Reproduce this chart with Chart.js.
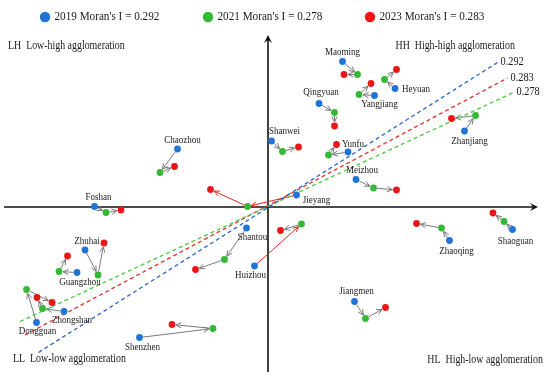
<!DOCTYPE html>
<html>
<head>
<meta charset="utf-8">
<script src="https://cdn.jsdelivr.net/npm/chart.js@4.4.1/dist/chart.umd.min.js"></script>
<style>
  html, body { margin: 0; padding: 0; background: #fff; }
  #wrap { width: 550px; height: 378px; }
</style>
</head>
<body>
<div id="wrap"><canvas id="grafico" width="550" height="378"></canvas></div>
<script>
// Moran scatter: standardized value (x) vs spatial lag (y)
const cities = ['Maoming', 'Heyuan', 'Yangjiang', 'Qingyuan', 'Shanwei', 'Yunfu', 'Zhanjiang',
  'Meizhou', 'Chaozhou', 'Jieyang', 'Foshan', 'Shantou', 'Huizhou', 'Zhaoqing', 'Shaoguan',
  'Zhuhai', 'Guangzhou', 'Zhongshan', 'Dongguan', 'Jiangmen', 'Shenzhen'];

const x2019 = [1.49, 2.54, 2.13, 1.02, 0.07, 1.60, 3.93, 1.76, -1.81, 0.57, -3.47, -0.43, -0.27, 3.63, 4.89, -3.66, -3.82, -4.08, -4.63, 1.73, -2.57];
const y2019 = [2.91, 2.37, 2.23, 2.07, 1.32, 1.10, 1.52, 0.55, 1.16, 0.24, 0.01, -0.42, -1.18, -0.67, -0.45, -0.86, -1.31, -2.09, -2.31, -1.89, -2.61];

const x2021 = [1.79, 2.33, 1.82, 1.33, 0.29, 1.21, 4.15, 2.11, -2.16, -0.41, -3.24, -0.87, 0.67, 3.47, 4.72, -3.40, -4.18, -4.51, -4.83, 1.95, -1.10];
const y2021 = [2.65, 2.55, 2.25, 1.89, 1.11, 1.04, 1.83, 0.38, 0.69, 0.01, -0.11, -1.05, -0.34, -0.42, -0.29, -1.36, -1.29, -2.03, -1.65, -2.23, -2.43];

const x2023 = [1.52, 2.57, 2.06, 1.33, 0.61, 1.37, 3.67, 2.57, -1.87, -1.15, -2.94, -1.45, 0.25, 2.97, 4.50, -3.28, -4.01, -4.62, -4.32, 2.35, -1.92];
const y2023 = [2.65, 2.75, 2.47, 1.62, 1.20, 1.25, 1.77, 0.34, 0.81, 0.35, -0.06, -1.25, -0.47, -0.33, -0.12, -0.72, -0.98, -1.81, -1.91, -2.01, -2.35];

const years = ['2019', '2021', '2023'];
const moranI = ['0.292', '0.278', '0.283'];

// fitted lines (end points)
const fit2019X = [-4.59, 4.59], fit2019Y = [-2.91, 2.89];
const fit2021X = [-4.96, 4.91], fit2021Y = [-2.29, 2.29];
const fit2023X = [-4.86, 4.79], fit2023Y = [-2.56, 2.58];

const quadrants = ['LH  Low-high agglomeration', 'HH  High-high agglomeration',
  'LL  Low-low agglomeration', 'HL  High-low agglomeration'];

// ---- estilos / layout ----
const pointColors = ['#1f74d4', '#35b835', '#ec1616'];
const lineColors = ['#2c66c4', '#4cc842', '#e5302c'];
const SERIF = '"Liberation Serif", "Times New Roman", serif';
const SQUEEZE = 0.86;

// label offset (px) from the 2019 dot
const labelOffset = {
  Maoming: [0, -9], Heyuan: [21, 1], Yangjiang: [5, 9], Qingyuan: [2, -11], Shanwei: [13, -10],
  Yunfu: [5, -8], Zhanjiang: [5, 10], Meizhou: [6, -9], Chaozhou: [5, -9], Jieyang: [20, 5],
  Foshan: [4, -9], Shantou: [6, 9], Huizhou: [-4, 9], Zhaoqing: [7, 11], Shaoguan: [3, 12],
  Zhuhai: [2, -9], Guangzhou: [3, 10], Zhongshan: [8, 9], Dongguan: [1, 9], Jiangmen: [2, -10],
  Shenzhen: [3, 10]
};
const arrowRed = { Jieyang: [true, true], Huizhou: [true, false] };

const pts = (xs, ys) => xs.map((x, i) => ({ x, y: ys[i] }));

function texto(ctx, str, x, y, size, align) {
  ctx.save();
  ctx.font = size + 'px ' + SERIF;
  ctx.fillStyle = '#1a1a1a';
  ctx.textBaseline = 'middle';
  ctx.textAlign = align || 'center';
  ctx.translate(x, y);
  ctx.scale(SQUEEZE, 1);
  ctx.fillText(str, 0, 0);
  ctx.restore();
}

function seta(ctx, x1, y1, x2, y2, cor, r) {
  const a = Math.atan2(y2 - y1, x2 - x1);
  const sx = x1 + Math.cos(a) * r, sy = y1 + Math.sin(a) * r;
  const ex = x2 - Math.cos(a) * (r + 0.5), ey = y2 - Math.sin(a) * (r + 0.5);
  ctx.save();
  ctx.strokeStyle = cor;
  ctx.lineWidth = 1;
  ctx.beginPath(); ctx.moveTo(sx, sy); ctx.lineTo(ex, ey); ctx.stroke();
  const h = 6;
  ctx.beginPath();
  ctx.moveTo(ex - h * Math.cos(a - 0.45), ey - h * Math.sin(a - 0.45));
  ctx.lineTo(ex, ey);
  ctx.lineTo(ex - h * Math.cos(a + 0.45), ey - h * Math.sin(a + 0.45));
  ctx.stroke();
  ctx.restore();
}

const eixosPlugin = {
  id: 'eixos',
  beforeDatasetsDraw(chart) {
    const { ctx, chartArea: ca, scales: { x, y } } = chart;
    const x0 = x.getPixelForValue(0), y0 = y.getPixelForValue(0);
    ctx.save();
    ctx.strokeStyle = '#111';
    ctx.fillStyle = '#111';
    ctx.lineWidth = 1.6;
    ctx.beginPath(); ctx.moveTo(ca.left, y0); ctx.lineTo(ca.right - 2, y0); ctx.stroke();
    ctx.beginPath(); ctx.moveTo(x0, ca.bottom); ctx.lineTo(x0, ca.top + 2); ctx.stroke();
    // pontas
    ctx.beginPath();
    ctx.moveTo(ca.right, y0); ctx.lineTo(ca.right - 8, y0 - 4); ctx.lineTo(ca.right - 5, y0);
    ctx.lineTo(ca.right - 8, y0 + 4); ctx.closePath(); ctx.fill();
    ctx.beginPath();
    ctx.moveTo(x0, ca.top); ctx.lineTo(x0 - 4, ca.top + 8); ctx.lineTo(x0, ca.top + 5);
    ctx.lineTo(x0 + 4, ca.top + 8); ctx.closePath(); ctx.fill();
    ctx.restore();

    // setas 2019 -> 2021 -> 2023
    cities.forEach((c, i) => {
      const p = [[x2019[i], y2019[i]], [x2021[i], y2021[i]], [x2023[i], y2023[i]]]
        .map(([a, b]) => [x.getPixelForValue(a), y.getPixelForValue(b)]);
      const red = arrowRed[c] || [false, false];
      seta(ctx, p[0][0], p[0][1], p[1][0], p[1][1], red[0] ? '#e8221c' : '#7a7a7a', 3.5);
      seta(ctx, p[1][0], p[1][1], p[2][0], p[2][1], red[1] ? '#e8221c' : '#7a7a7a', 3.5);
    });
  },
  afterDatasetsDraw(chart) {
    const { ctx, chartArea: ca, scales: { x, y } } = chart;
    cities.forEach((c, i) => {
      const off = labelOffset[c];
      texto(ctx, c, x.getPixelForValue(x2019[i]) + off[0], y.getPixelForValue(y2019[i]) + off[1], 10.5);
    });
    // valores de Moran ao fim das retas
    const ends = [[fit2019X[1], fit2019Y[1]], [fit2021X[1], fit2021Y[1]], [fit2023X[1], fit2023Y[1]]];
    ends.forEach(([a, b], k) => {
      texto(ctx, moranI[k], x.getPixelForValue(a) + 3, y.getPixelForValue(b) - 0.5, 12, 'left');
    });
    // quadrantes
    texto(ctx, quadrants[0], 8, 46, 11.5, 'left');
    texto(ctx, quadrants[1], 515, 46, 11.5, 'right');
    texto(ctx, quadrants[2], 13, 359, 11.5, 'left');
    texto(ctx, quadrants[3], 543, 360, 11.5, 'right');
    // legenda
    const lx = [45, 208, 370];
    years.forEach((yr, k) => {
      ctx.save();
      ctx.fillStyle = pointColors[k];
      ctx.beginPath(); ctx.arc(lx[k], 17, 5.2, 0, Math.PI * 2); ctx.fill();
      ctx.restore();
      texto(ctx, `${yr} Moran's I = ${moranI[k]}`, lx[k] + 9.5, 17, 13, 'left');
    });
  }
};

const ptDataset = (k, xs, ys) => ({
  type: 'scatter',
  label: years[k],
  data: pts(xs, ys),
  backgroundColor: pointColors[k],
  borderWidth: 0,
  pointRadius: 3.4,
  order: 1
});
const fitDataset = (k, xs, ys) => ({
  type: 'line',
  label: 'fit ' + years[k],
  data: pts(xs, ys),
  borderColor: lineColors[k],
  borderWidth: 1.3,
  borderDash: [4, 3],
  pointRadius: 0,
  fill: false,
  order: 5
});

new Chart(document.getElementById('grafico'), {
  type: 'scatter',
  data: {
    datasets: [
      ptDataset(0, x2019, y2019),
      ptDataset(1, x2021, y2021),
      ptDataset(2, x2023, y2023),
      fitDataset(0, fit2019X, fit2019Y),
      fitDataset(1, fit2021X, fit2021Y),
      fitDataset(2, fit2023X, fit2023Y)
    ]
  },
  options: {
    responsive: false,
    devicePixelRatio: 1,
    animation: false,
    layout: { padding: { left: 4, right: 12, top: 35, bottom: 6 } },
    scales: {
      x: { type: 'linear', min: -5.28, max: 5.4, display: false },
      y: { type: 'linear', min: -3.3, max: 3.44, display: false }
    },
    plugins: { legend: { display: false }, tooltip: { enabled: false } }
  },
  plugins: [eixosPlugin]
});
</script>
</body>
</html>
